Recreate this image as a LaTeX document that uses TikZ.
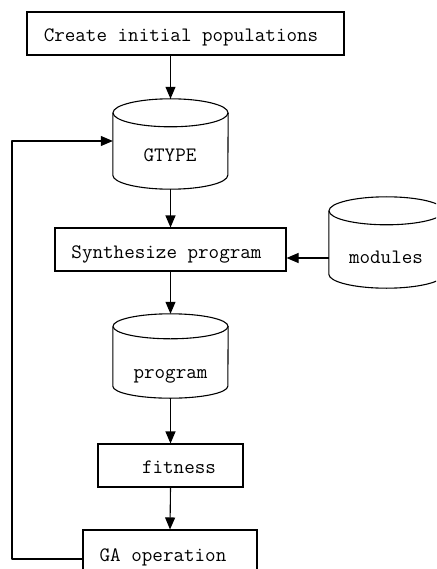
\documentclass[tikz,border=0pt]{standalone}
\usepackage{fontspec}
\usetikzlibrary{arrows.meta,calc}

\tikzset{
  x=1pt, y=-1pt,
  line/.style={line width=1.1pt, line join=round},
  arr/.style={line, -{Triangle[length=12pt,width=10pt]}},
  box/.style={draw, line width=1.1pt, rectangle, inner sep=0pt, minimum height=43pt},
  cylbox/.style={rectangle, inner sep=0pt, minimum width=115pt},
  lbl/.style={font=\ttfamily\fontsize{20.5}{23}\selectfont, inner sep=0pt, anchor=base},
}

% outline of an upright cylinder around a rectangular node:
% #1 node name, #2 radius of the top ellipse, #3 radius of the bottom arc
\newcommand\cylout[3]{%
  \draw[line] ([yshift=-#2]#1.north west) -- ([yshift=#3]#1.south west)
    arc[start angle=180, end angle=360, x radius=57.5pt, y radius=#3]
    -- ([yshift=-#2]#1.north east);
  \draw[line] ([yshift=-#2]#1.north) ellipse[x radius=57.5pt, y radius=#2];
}

\begin{document}
\begin{tikzpicture}
  \useasboundingbox (0,0) rectangle (436,569);
  \clip (0,0) rectangle (436,569);

  % process boxes
  \node[box, minimum width=317pt] (create) at (185.5,33.5) {};
  \node[box, minimum width=231pt] (synth)  at (170.5,249.5) {};
  \node[box, minimum width=145pt] (fit)    at (170.5,465.5) {};
  \node[box, minimum width=174pt] (ga)     at (170,551.5) {};

  % data stores
  \node[cylbox, minimum height=90pt] (g)    at (170.5,144) {};
  \node[cylbox, minimum height=91pt] (mod)  at (386.5,242.5) {};
  \node[cylbox, minimum height=84pt] (prog) at (170.5,356) {};
  \cylout{g}{14pt}{14pt}
  \cylout{mod}{14pt}{14pt}
  \cylout{prog}{12.5pt}{12pt}

  % labels
  \node[lbl] (createtxt) at (181,42)   {Create initial populations};
  \node[lbl] (gtxt)      at (170,162)  {GTYPE};
  \node[lbl] (synthtxt)  at (166.5,258) {Synthesize program};
  \node[lbl] (modtxt)    at (386,263)  {modules};
  \node[lbl] (progtxt)   at (170.5,378) {program};
  \node[lbl] (fittxt)    at (179,473)  {fitness};
  \node[lbl] (gatxt)     at (163,561)  {GA operation};

  % connectors
  \draw[arr] (create.south -| g.north) -- (g.north);
  \draw[arr] (g.south) -- (synth.north);
  \draw[arr] ([yshift=-15.5pt]mod.west) -- ([yshift=-15.5pt]mod.west -| synth.east);
  \draw[arr] (synth.south) -- (prog.north);
  \draw[arr] (prog.south) -- (fit.north);
  \draw[arr] (fit.south) -- (ga.north);

  % feedback loop back to the genotype store
  \coordinate (loopc) at (12,141);
  \draw[arr] ([yshift=-7.5pt]ga.west) -| (loopc) -- (loopc -| g.west);
\end{tikzpicture}
\end{document}
